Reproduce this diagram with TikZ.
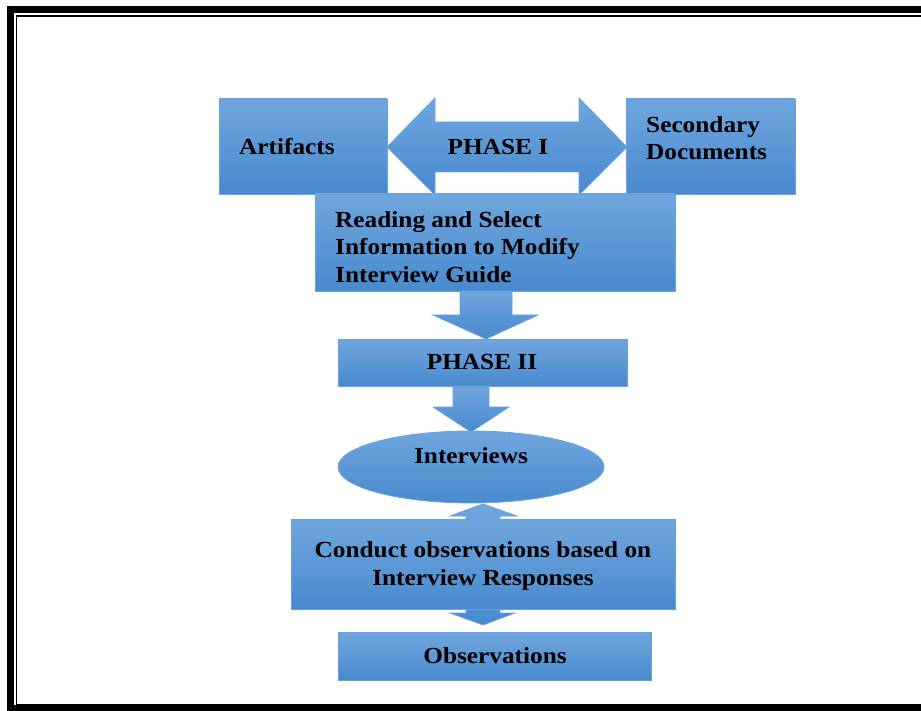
\documentclass[tikz,border=0pt]{standalone}
\usepackage{fontspec}
\setmainfont{Liberation Serif}[FakeStretch=1.1]
\usetikzlibrary{shapes.geometric,calc}
\definecolor{boxtop}{RGB}{112,166,222}
\definecolor{boxbot}{RGB}{72,138,206}
\definecolor{boxedge}{RGB}{104,162,222}
\tikzset{
  blue fill/.style={top color=boxtop, bottom color=boxbot, draw=boxedge, line width=0.8pt},
  lbl/.style={font=\fontsize{23}{27.5}\selectfont\bfseries, text=black, inner sep=0pt, align=left},
  clbl/.style={font=\fontsize{23}{27.5}\selectfont\bfseries, text=black, inner sep=0pt, align=center},
}
\begin{document}
\begin{tikzpicture}[x=1pt,y=-1pt]
\useasboundingbox (0,0) rectangle (921,711);
\fill[white] (0,0) rectangle (921,711);
% border
\draw[line width=7pt] (10.5,9.5) rectangle (940,708.5);
\draw[line width=1.8pt] (16.4,16.4) rectangle (940,705);
% top boxes
\path[blue fill] (219,99) rectangle (387,194);
\path[blue fill] (626,99) rectangle (795,194);
\node[lbl, anchor=west] (art) at (239,147) {Artifacts};
\node[lbl, anchor=west] (sec) at (646,138) {Secondary\\Documents};
% double arrow PHASE I
\path[blue fill] (387,147) -- (435,98) -- (435,122) -- (579,122) -- (579,98) -- (627,147) -- (579,195) -- (579,172) -- (435,172) -- (435,195) -- cycle;
\node[clbl] (ph1) at (498,147) {PHASE I};
% reading box
\path[blue fill] (315,194) rectangle (675,291);
\node[lbl, anchor=west] (read) at (335,247) {Reading and Select\\Information to Modify\\Interview Guide};
% arrow 1
\path[blue fill] (460,291) -- (512,291) -- (512,315) -- (538,315) -- (486,339) -- (433,315) -- (460,315) -- cycle;
% phase II
\path[blue fill] (338,339) rectangle (627,386);
\node[clbl] (ph2) at (482,362) {PHASE II};
% arrow 2
\path[blue fill] (453,386) -- (489,386) -- (489,407) -- (509,407) -- (471,432) -- (433,407) -- (453,407) -- cycle;
% up-down arrow
\path[blue fill] (483,504) -- (517,516) -- (500,516) -- (500,613) -- (515,613) -- (483,625) -- (450,613) -- (466,613) -- (466,516) -- (450,516) -- cycle;
% interviews ellipse
\path[blue fill] (471,467) ellipse [x radius=133, y radius=36];
\node[clbl] (intv) at (471,456) {Interviews};
% conduct box
\path[blue fill] (291,519) rectangle (675,609);
\node[clbl] (cond) at (483,566) {Conduct observations based on\\Interview Responses};
% observations
\path[blue fill] (338,632) rectangle (651,680);
\node[clbl] (obs) at (495,656) {Observations};
\end{tikzpicture}
\end{document}
